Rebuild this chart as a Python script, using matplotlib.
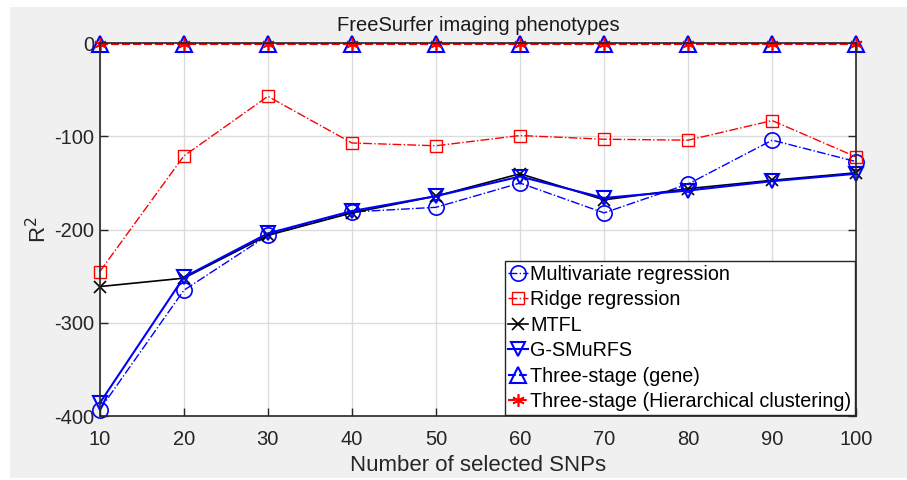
import matplotlib.pyplot as plt
from matplotlib.patches import Rectangle

plt.rcParams['font.family'] = ['Liberation Sans', 'DejaVu Sans']
plt.rcParams['axes.unicode_minus'] = False

# data
snps = [10, 20, 30, 40, 50, 60, 70, 80, 90, 100]
multivariate = [-393, -265, -206, -181, -176, -150, -182, -151, -104, -127]
ridge = [-245, -121, -57, -107, -110, -99, -103, -104, -83, -122]
mtfl = [-261, -252, -206, -182, -164, -140, -168, -156, -147, -139]
gsmurfs = [-386, -251, -204, -180, -164, -143, -166, -158, -148, -140]
three_gene = [-1, -1, -1, -1, -1, -1, -1, -1, -1, -1]
three_hc = [-1, -1, -1, -1, -1, -1, -1, -1, -1, -1]

fig = plt.figure(figsize=(9.07, 4.8), dpi=100, facecolor='white')
# grey MATLAB-style figure background with a thin white margin
fig.patches.append(Rectangle((10 / 907, 2 / 480), 897 / 907, 471 / 480,
                             transform=fig.transFigure, facecolor='#f0f0f0',
                             edgecolor='none', zorder=-10))
ax = fig.add_axes([0.110, 0.133, 0.834, 0.777])

ax.plot(snps, multivariate, color='blue', linestyle='-.', marker='o', markersize=11,
        markerfacecolor='none', markeredgewidth=1.2, lw=1.0, label='Multivariate regression', clip_on=False)
ax.plot(snps, ridge, color='red', linestyle='-.', marker='s', markersize=9,
        markerfacecolor='none', markeredgewidth=1.0, lw=1.0, label='Ridge regression', clip_on=False)
ax.plot(snps, mtfl, color='black', linestyle='-', marker='x', markersize=9,
        markeredgewidth=1.2, lw=1.2, label='MTFL', clip_on=False)
ax.plot(snps, gsmurfs, color='blue', linestyle='-', marker='v', markersize=10,
        markerfacecolor='none', markeredgewidth=1.5, lw=1.5, label='G-SMuRFS', clip_on=False)
ax.plot(snps, three_gene, color='blue', linestyle='--', marker='^', markersize=11,
        markerfacecolor='none', markeredgewidth=1.5, lw=1.5, label='Three-stage (gene)', clip_on=False)
ax.plot(snps, three_hc, color='red', linestyle='--', marker=(6, 2, 0), markersize=9,
        markeredgewidth=1.2, lw=1.5, label='Three-stage (Hierarchical clustering)', clip_on=False)

ax.set_xlim(10, 100)
ax.set_ylim(-400, 0)
ax.set_xticks(snps)
ax.set_yticks([-400, -300, -200, -100, 0])
ax.tick_params(labelsize=14.5, direction='in', length=6, width=1, top=True, right=True,
               colors='#262626')
ax.tick_params(axis='x', pad=10)
ax.tick_params(axis='y', pad=4)
ax.grid(True, color='#dcdcdc', lw=1)
for s in ax.spines.values():
    s.set_color('#262626')
    s.set_linewidth(1.2)

ax.set_title('FreeSurfer imaging phenotypes', fontsize=14.5, pad=9, color='#1a1a1a')
ax.set_xlabel('Number of selected SNPs', fontsize=16, color='#262626', labelpad=4)
ax.set_ylabel('R$^2$', fontsize=16, color='#262626', labelpad=2)

leg = ax.legend(loc='lower right', fontsize=14.2, handlelength=1.0, handletextpad=0.1,
                borderpad=0.2, labelspacing=0.33, fancybox=False, framealpha=1,
                edgecolor='#262626', borderaxespad=0.05)
leg.get_frame().set_linewidth(1.0)

fig.savefig('out.png', dpi=100, facecolor=fig.get_facecolor())
